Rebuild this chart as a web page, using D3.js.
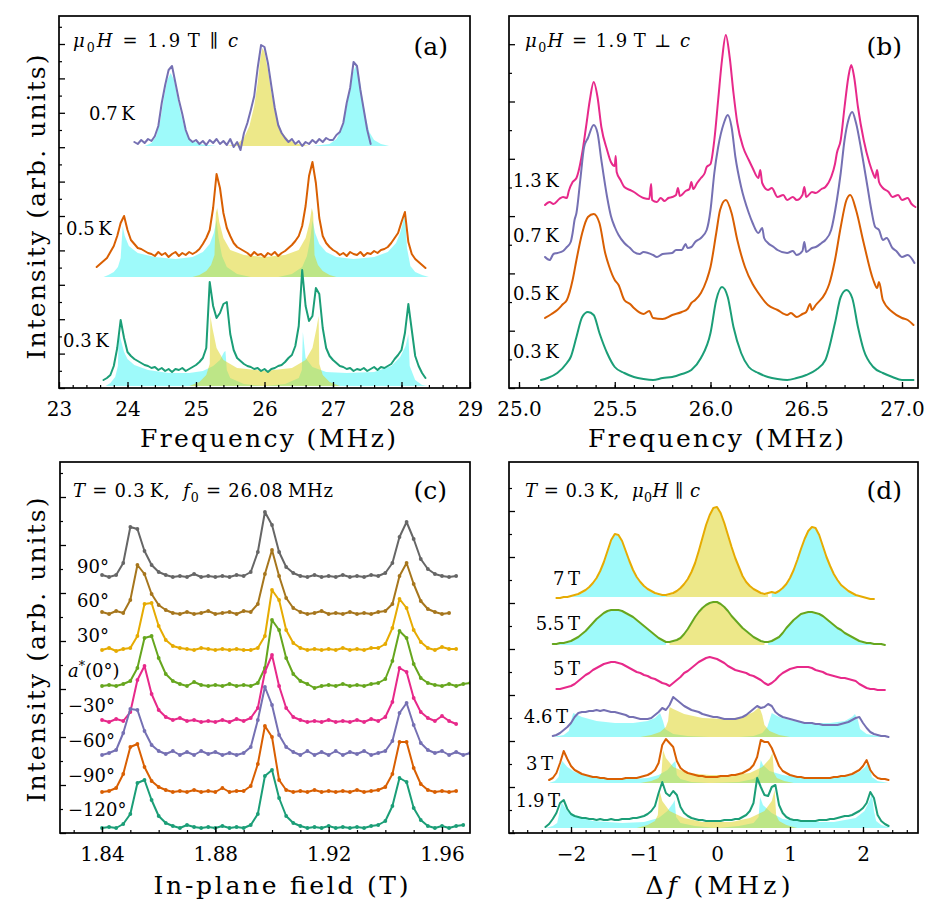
<!DOCTYPE html>
<html><head><meta charset="utf-8">
<script src="https://cdn.jsdelivr.net/npm/d3@7/dist/d3.min.js"></script>
<style>
body{margin:0;background:#fff}
text{font-family:"DejaVu Serif",serif;fill:#000;white-space:pre}
</style>
</head><body>
<svg id="fig" width="945" height="917"></svg>
<script>
// ================= DATA =================
// Panel (a): mu0H = 1.9 T || c, frequency spectra (MHz), intensity (arb. units)
const aTicks = [23, 24, 25, 26, 27, 28, 29];
const aLabels = ["0.7\u2009K", "0.5\u2009K", "0.3\u2009K"];
const aStep = 0.05;
const a07Start = 24.10, a05Start = 23.55, a03Start = 23.65;
const a07 = [246,244,248,245,249,247,252,262,285,303,318,322,305,288,274,258,249,246,
 248,244,247,243,248,245,249,244,247,243,249,241,246,238,255,265,278,292,320,343,
 341,325,302,280,263,255,250,246,249,244,247,242,246,244,248,245,249,246,250,248,
 248,253,256,265,285,300,326,322,298,278,258,244];
const a05 = [121,124,127,130,136,142,152,165,172,158,148,144,140,139,137,135,134,132,136,133,135,131,134,136,132,135,133,136,134,
 136,139,144,150,158,180,214,200,175,160,152,145,141,139,137,135,132,136,133,134,
 131,135,133,136,132,135,137,140,143,147,152,162,182,212,226,205,170,152,145,141,
 138,136,133,135,132,136,134,133,136,132,135,134,137,135,138,139,141,145,150,155,
 166,176,146,134,129,126,123,120];
const a03 = [8,10,13,22,40,68,50,36,32,29,27,25,23,22,20,21,18,20,17,19,16,19,18,20,17,19,21,
 23,26,30,40,106,82,70,75,84,86,54,38,30,27,24,22,21,19,20,17,
 19,16,19,20,22,23,26,30,33,42,62,118,82,67,72,100,94,60,40,32,
 28,25,22,21,19,20,17,19,18,20,17,19,21,18,21,20,22,24,29,33,
 38,55,84,58,32,22,15,10];
const a07Base = 242, a05Base = 111, a03Base = 2;
const a07Cyan = [[24.25,242],[24.35,245],[24.42,252],[24.48,268],[24.53,290],[24.58,308],[24.63,315],[24.68,308],[24.73,290],[24.78,274],[24.84,258],[24.92,248],[25.05,244],[25.3,242],[26.7,242],[26.95,244],[27.05,249],[27.12,258],[27.18,275],[27.24,295],[27.29,315],[27.33,322],[27.38,312],[27.43,290],[27.48,270],[27.53,256],[27.6,248],[27.7,244],[27.82,242]];
const a07Yellow = [[25.45,242],[25.6,244],[25.7,250],[25.78,262],[25.85,282],[25.9,305],[25.94,330],[25.97,340],[26.0,336],[26.05,318],[26.1,295],[26.17,272],[26.25,256],[26.35,248],[26.5,244],[26.65,242]];
const a05Cyan = [[23.65,111],[23.72,113],[23.8,116],[23.86,121],[23.9,130],[23.93,162],[23.96,152],[24.02,142],[24.15,135],[24.4,131],[24.7,129],[24.95,131],[25.1,136],[25.2,144],[25.26,155],[25.3,168],[25.33,150],[25.38,132],[25.45,121],[25.6,114],[25.8,111],[26.2,111],[26.4,114],[26.55,121],[26.62,132],[26.67,150],[26.7,168],[26.74,155],[26.8,144],[26.9,136],[27.05,131],[27.3,129],[27.6,131],[27.8,136],[27.92,145],[27.98,155],[28.02,165],[28.05,176],[28.08,140],[28.13,122],[28.2,116],[28.3,113],[28.4,111]];
const a05Yellow = [[24.95,111],[25.05,113],[25.15,117],[25.22,123],[25.27,133],[25.29,175],[25.31,180],[25.34,166],[25.4,150],[25.5,138],[25.7,133],[26.0,131],[26.3,133],[26.5,138],[26.6,150],[26.66,166],[26.69,180],[26.71,175],[26.73,133],[26.78,123],[26.85,117],[26.95,113],[27.05,111]];
const a03Cyan = [[23.68,2],[23.75,5],[23.82,11],[23.86,22],[23.875,57],[23.9,49],[23.95,36],[24.0,29],[24.1,23],[24.3,18],[24.6,15],[24.9,15],[25.1,17],[25.25,22],[25.35,28],[25.41,36],[25.43,37],[25.45,18],[25.5,10],[25.7,4],[26.0,2],[26.3,4],[26.5,10],[26.545,18],[26.56,56],[26.6,30],[26.7,21],[26.9,16],[27.2,15],[27.6,16],[27.85,22],[27.98,31],[28.06,42],[28.1,54],[28.12,22],[28.2,8],[28.3,3],[28.38,2]];
const a03Yellow = [[24.9,2],[25.05,6],[25.15,13],[25.2,24],[25.21,72],[25.24,60],[25.3,40],[25.4,28],[25.6,20],[26.0,17],[26.4,20],[26.6,28],[26.7,40],[26.76,60],[26.79,72],[26.8,24],[26.85,13],[26.95,6],[27.1,2]];

// Panel (b): mu0H = 1.9 T perpendicular to c
const bTicks = [25.0, 25.5, 26.0, 26.5, 27.0];
const bLabels = ["1.3\u2009K", "0.7\u2009K", "0.5\u2009K", "0.3\u2009K"];
const b13 = [[25.136,183],[25.16,186],[25.18,184],[25.21,189],[25.23,191],[25.25,190],[25.26,197],[25.28,206],[25.3,210],[25.31,216],[25.33,235],[25.35,261],[25.37,288],[25.39,306],[25.41,291],[25.43,261],[25.46,238],[25.48,226],[25.5,222],[25.505,232],[25.51,216],[25.53,208],[25.55,201],[25.58,198],[25.6,196],[25.63,192],[25.65,190],[25.68,189],[25.69,204],[25.695,188],[25.72,186],[25.74,190],[25.76,187],[25.78,190],[25.8,191],[25.82,193],[25.83,200],[25.84,192],[25.87,197],[25.89,199],[25.9,206],[25.91,199],[25.93,205],[25.95,210],[25.97,215],[25.98,221],[26.0,224],[26.02,248],[26.04,288],[26.06,328],[26.08,353],[26.1,331],[26.12,295],[26.14,265],[26.17,241],[26.2,228],[26.22,220],[26.25,210],[26.26,218],[26.27,205],[26.3,198],[26.32,200],[26.35,191],[26.38,193],[26.4,188],[26.43,191],[26.45,188],[26.48,193],[26.49,201],[26.5,191],[26.53,196],[26.55,195],[26.58,199],[26.6,201],[26.63,211],[26.65,224],[26.66,235],[26.68,248],[26.7,281],[26.72,311],[26.735,323],[26.75,311],[26.77,281],[26.8,248],[26.83,225],[26.85,214],[26.86,210],[26.87,218],[26.88,206],[26.9,200],[26.93,196],[26.95,191],[26.98,193],[27.0,188],[27.03,190],[27.05,184],[27.07,181]];
const b07 = [[25.136,131],[25.16,128],[25.18,134],[25.2,135],[25.23,137],[25.25,141],[25.27,146],[25.28,155],[25.29,168],[25.3,175],[25.32,208],[25.34,241],[25.36,250],[25.39,263],[25.41,255],[25.43,228],[25.46,191],[25.48,172],[25.5,161],[25.52,153],[25.55,145],[25.58,140],[25.6,136],[25.63,134],[25.65,136],[25.7,133],[25.72,131],[25.75,134],[25.8,135],[25.82,138],[25.85,138],[25.87,144],[25.88,140],[25.9,141],[25.92,146],[25.95,150],[25.98,158],[26.0,178],[26.02,215],[26.04,241],[26.07,265],[26.09,273],[26.11,261],[26.13,231],[26.16,201],[26.2,175],[26.22,165],[26.25,155],[26.27,160],[26.28,150],[26.3,145],[26.33,141],[26.35,138],[26.4,135],[26.43,137],[26.45,133],[26.48,137],[26.49,146],[26.5,136],[26.53,140],[26.55,141],[26.58,145],[26.6,148],[26.63,158],[26.66,188],[26.68,215],[26.7,248],[26.72,268],[26.74,276],[26.76,265],[26.79,235],[26.82,201],[26.84,178],[26.86,161],[26.88,158],[26.9,148],[26.92,150],[26.95,140],[26.97,137],[27.0,131],[27.03,133],[27.065,125]];
const b05 = [[25.136,70],[25.17,74],[25.2,78],[25.23,84],[25.25,88],[25.28,108],[25.3,128],[25.33,155],[25.36,171],[25.39,174],[25.42,165],[25.45,135],[25.47,122],[25.5,108],[25.52,103],[25.55,88],[25.58,84],[25.6,80],[25.65,74],[25.68,77],[25.7,70],[25.75,69],[25.8,73],[25.85,76],[25.88,79],[25.9,85],[25.92,88],[25.95,95],[25.98,108],[26.0,121],[26.03,155],[26.05,178],[26.08,188],[26.11,175],[26.14,148],[26.18,121],[26.22,104],[26.25,95],[26.3,83],[26.35,78],[26.4,73],[26.42,75],[26.45,71],[26.48,74],[26.5,76],[26.52,84],[26.53,78],[26.55,83],[26.6,95],[26.62,104],[26.65,128],[26.68,161],[26.71,188],[26.73,193],[26.76,178],[26.8,145],[26.85,108],[26.87,100],[26.88,106],[26.9,88],[26.95,76],[27.0,70],[27.03,68],[27.06,63]];
const b03 = [[25.115,8],[25.15,10],[25.2,15],[25.25,25],[25.27,31],[25.3,51],[25.33,71],[25.36,76],[25.39,73],[25.42,55],[25.46,35],[25.5,21],[25.55,15],[25.6,11],[25.65,9],[25.7,8],[25.75,10],[25.8,11],[25.85,14],[25.9,18],[25.95,30],[26.0,55],[26.03,88],[26.06,101],[26.09,91],[26.12,61],[26.16,35],[26.2,21],[26.25,15],[26.3,11],[26.35,9],[26.4,8],[26.45,10],[26.5,13],[26.55,18],[26.6,28],[26.65,65],[26.68,91],[26.71,98],[26.74,90],[26.77,61],[26.8,38],[26.85,21],[26.9,15],[26.95,11],[27.0,8],[27.06,8]];

// Panel (c): T = 0.3 K, f0 = 26.08 MHz, field sweeps at in-plane angles
const cTicks = [1.84, 1.88, 1.92, 1.96];
const cLabels = ["90°", "60°", "30°", "a*(0°)", "−30°", "−60°", "−90°", "−120°"];
const cStart = 1.84, cStep = 0.0025;
const cOffsets = [256, 219, 183, 147, 111, 78, 41, 5];
const c90 = [2,0,2,14,50,48,26,12,5,2,0,1,0,3,0,1,0,1,0,2,1,5,25,65,52,25,10,4,1,0,2,0,1,0,2,0,1,0,2,1,4,14,40,55,38,18,8,3,1,0,1];
const c60 = [2,0,3,1,14,49,40,20,9,4,1,0,2,0,1,3,0,1,2,0,3,2,10,40,64,38,16,6,2,0,1,3,0,1,0,2,0,1,0,2,3,10,38,51,30,13,5,2,0,1];
const c30 = [0,2,-1,1,2,14,46,47,24,10,4,2,1,0,2,1,0,1,0,1,0,0,2,14,60,50,20,7,2,0,1,0,1,0,2,0,1,0,2,2,6,22,51,42,20,8,2,0,3,1,1];
const c0 = [0,1,0,2,5,18,48,50,28,12,5,2,0,4,1,0,1,0,2,0,1,0,3,18,66,56,28,12,5,2,-2,0,1,0,2,0,1,0,2,3,7,25,55,48,22,8,3,1,0,2,0,2,3];
const cM30 = [2,0,3,1,10,42,56,28,12,5,2,4,1,2,0,1,0,2,0,3,1,4,14,50,67,36,14,5,2,0,1,0,2,0,1,0,2,0,3,1,5,20,54,50,24,10,4,1,6,1,-2];
const cM60 = [0,2,5,22,46,45,24,10,4,1,4,0,3,0,4,1,3,0,2,0,2,8,35,68,50,20,8,3,0,4,0,3,0,4,0,3,1,4,0,2,4,14,42,52,30,12,5,2,4,0,3,0,2];
const cM90 = [0,1,4,18,45,48,25,11,5,2,0,1,0,2,0,1,0,4,0,1,1,6,28,66,55,12,2,0,1,0,2,0,1,0,1,0,2,0,1,2,5,18,50,50,24,8,2,0,1,0,1];
const cM120 = [0,1,0,4,14,45,48,28,12,5,2,0,3,1,0,1,0,2,0,1,0,3,14,52,58,30,12,5,2,0,1,0,2,0,1,0,1,0,2,3,7,22,50,46,20,8,2,0,2,0,2,3];

// Panel (d): T = 0.3 K, mu0H || c, spectra vs frequency shift at several fields
const dTicks = [-2, -1, 0, 1, 2];
const dLabels = ["7\u2009T", "5.5\u2009T", "5\u2009T", "4.6\u2009T", "3\u2009T", "1.9\u2009T"];
const dStep = 0.05;
const d7Start = -2.2, d55Start = -2.25, d5Start = -2.2, d46Start = -2.25, d3Start = -2.3, d19Start = -2.35;
const s7T = [235,235,236,236,237,238,239,241,243,246,250,255,262,271,282,293,299,298,292,282,272,263,256,251,247,244,242,240,239,238,238,239,240,242,245,249,254,261,270,282,295,308,318,325,326,320,310,298,286,275,266,257,251,247,244,242,240,239,240,241,240,242,245,249,255,263,273,284,294,302,306,305,298,287,276,267,259,253,248,245,242,240,238,237,236,235,234,234];
const s55T = [189,189,190,190,191,192,194,196,199,202,206,210,214,217,220,222,223,223,223,222,220,218,216,213,210,207,204,201,198,195,193,191,191,192,193,195,199,204,210,216,221,225,228,230,231,231,229,226,222,217,213,209,205,202,199,196,194,192,191,191,192,194,196,200,205,209,213,216,219,220,221,221,220,219,217,214,211,208,205,203,200,198,196,194,192,191,190,190,189,189,189,188];
const s5T = [144,144,145,146,147,149,152,155,158,160,163,165,167,169,170,171,171,170,169,167,165,163,161,160,158,157,155,154,152,150,149,147,150,153,156,160,162,165,168,171,173,175,176,175,174,172,170,167,165,163,162,161,160,158,157,155,153,150,148,150,153,157,160,162,164,165,166,166,166,166,165,163,162,161,159,158,157,156,155,155,154,153,152,149,147,145,144,144,143,143,143];
const s46T = [97,98,100,103,106,110,116,120,121,121,122,122,123,122,123,122,121,121,120,119,118,116,116,115,114,114,114,115,118,121,125,123,128,136,133,130,127,125,123,122,121,119,118,117,116,116,115,114,114,114,114,115,116,118,121,124,127,125,126,129,127,121,118,116,115,114,113,112,111,110,110,110,109,109,108,108,108,108,108,109,110,111,113,115,116,110,105,101,99,98,97,97,96];
const s3T = [53,55,60,70,82,74,67,63,61,59,58,57,56,56,55,55,54,54,54,54,54,55,55,55,55,56,57,58,60,63,70,88,94,90,86,72,65,62,60,59,58,57,57,56,56,56,56,57,57,57,58,58,59,60,62,64,68,76,93,91,91,85,76,67,62,60,58,57,56,56,55,55,55,55,55,55,55,55,56,56,57,57,58,59,61,63,67,73,63,58,55,54,54,53];
const s19T = [6,9,14,20,30,33,24,19,17,16,15,15,14,14,13,14,13,13,14,13,13,14,14,14,15,15,16,17,19,22,27,40,51,40,37,42,38,26,20,17,15,14,13,13,12,12,12,12,12,13,13,13,14,14,16,18,22,30,55,46,38,37,46,48,28,20,16,14,13,13,12,12,12,12,12,13,13,13,14,14,15,16,17,17,18,20,22,25,30,41,35,18,12,9,7];
const d7FillBase = 236, d7Split = [-0.7, 0.72];
const d55FillBase = 188, d55Split = [-0.68, 0.68];
const d46Base = 96, d3Base = 50, d19Base = 5;
const d46Cyan = [[-2.25,96],[-2.1,98],[-2.03,102],[-2.0,112],[-1.97,120],[-1.85,116],[-1.65,112],[-1.4,110],[-1.15,110],[-0.95,112],[-0.85,115],[-0.78,120],[-0.74,112],[-0.71,104],[-0.6,99],[-0.4,97],[-0.1,96],[0.3,96],[0.5,97],[0.62,100],[0.69,106],[0.72,113],[0.75,120],[0.85,116],[1.05,112],[1.3,110],[1.55,110],[1.75,112],[1.85,116],[1.89,119],[1.93,113],[1.96,104],[2.05,99],[2.2,97],[2.35,96]];
const d46Yellow = [[-1.05,96],[-0.9,98],[-0.78,101],[-0.7,106],[-0.67,112],[-0.65,126],[-0.6,124],[-0.45,119],[-0.2,115],[0.1,114],[0.35,116],[0.5,121],[0.58,126],[0.62,118],[0.65,108],[0.72,102],[0.85,98],[1.0,96]];
const d3Cyan = [[-2.3,50],[-2.22,52],[-2.17,56],[-2.15,66],[-2.12,72],[-2.05,66],[-1.95,61],[-1.8,58],[-1.5,55],[-1.2,54],[-0.95,55],[-0.8,58],[-0.68,63],[-0.6,70],[-0.57,72],[-0.55,58],[-0.5,54],[-0.35,51],[-0.1,50],[0.3,51],[0.5,54],[0.57,58],[0.6,73],[0.63,68],[0.72,62],[0.9,58],[1.2,55],[1.5,55],[1.8,57],[1.95,61],[2.03,66],[2.07,71],[2.1,66],[2.12,56],[2.2,52],[2.35,50]];
const d3Yellow = [[-1.05,50],[-0.9,52],[-0.8,55],[-0.76,60],[-0.74,83],[-0.7,75],[-0.6,66],[-0.4,60],[-0.1,58],[0.2,58],[0.45,60],[0.62,66],[0.72,74],[0.76,80],[0.78,60],[0.82,55],[0.92,52],[1.05,50]];
const d19Cyan = [[-2.35,5],[-2.25,7],[-2.19,10],[-2.16,20],[-2.13,31],[-2.05,22],[-1.95,17],[-1.7,12],[-1.3,10],[-1.0,11],[-0.8,15],[-0.68,22],[-0.6,30],[-0.58,33],[-0.56,16],[-0.5,10],[-0.3,7],[0.0,5],[0.3,7],[0.5,10],[0.57,16],[0.59,36],[0.63,28],[0.75,20],[0.9,14],[1.2,11],[1.6,11],[1.9,15],[2.02,22],[2.1,34],[2.12,40],[2.15,22],[2.18,12],[2.25,8],[2.38,5]];
const d19Yellow = [[-1.1,5],[-0.95,8],[-0.85,12],[-0.81,18],[-0.79,43],[-0.75,32],[-0.65,22],[-0.45,15],[-0.2,11],[0.2,11],[0.45,15],[0.65,22],[0.75,32],[0.79,43],[0.81,18],[0.85,12],[0.95,8],[1.1,5]];

// ================= DRAWING =================
const COL = {teal:"#1b9e77", orange:"#d95f02", purple:"#7570b3", pink:"#e7298a",
             green:"#66a61e", gold:"#e6ab02", brown:"#a6761d", gray:"#666666"};
const CYAN = "#00f2f2", CYAN_OP = 0.38, YEL = "#dcd214", YEL_OP = 0.5;
const svg = d3.select("#fig");

function grid(start, step, vals){ return vals.map((v,i)=>[start + i*step, v]); }

let clipId = 0;
function panel(o){
  const g = svg.append("g");
  const x = d3.scaleLinear().domain(o.xd).range(o.xr);
  const y = d3.scaleLinear().domain([0, o.b - o.t]).range([o.b, o.t]);
  const id = "clip" + (clipId++);
  svg.append("clipPath").attr("id", id).append("rect")
     .attr("x", o.l).attr("y", o.t).attr("width", o.r - o.l).attr("height", o.b - o.t);
  const plot = g.append("g").attr("clip-path", `url(#${id})`);
  const xa = g.append("g").attr("transform", `translate(0,${o.b})`)
    .call(d3.axisBottom(x).tickValues(o.xt).tickFormat(o.fmt).tickSizeInner(-6).tickSizeOuter(0).tickPadding(14));
  xa.select(".domain").remove();
  xa.selectAll("text").attr("font-size", 20).attr("font-family", '"DejaVu Serif",serif');
  xa.selectAll("line").attr("stroke-width", 1.3);
  const xm = g.append("g").attr("transform", `translate(0,${o.b})`)
    .call(d3.axisBottom(x).tickValues(o.xm.filter(v => x(v) > o.l + 1 && x(v) < o.r - 1)).tickFormat("").tickSizeInner(-3).tickSizeOuter(0));
  xm.select(".domain").remove();
  xm.selectAll("line").attr("stroke-width", 1.2);
  const H = o.b - o.t;
  const ya = g.append("g").attr("transform", `translate(${o.l},0)`)
    .call(d3.axisLeft(y).tickValues(d3.range(0, H - 5, o.ys)).tickFormat("").tickSizeInner(-6).tickSizeOuter(0));
  ya.select(".domain").remove();
  ya.selectAll("line").attr("stroke-width", 1.3);
  const ym = g.append("g").attr("transform", `translate(${o.l},0)`)
    .call(d3.axisLeft(y).tickValues(d3.range(o.ys/2, H - 5, o.ys)).tickFormat("").tickSizeInner(-3).tickSizeOuter(0));
  ym.select(".domain").remove();
  ym.selectAll("line").attr("stroke-width", 1.2);
  g.append("rect").attr("x", o.l).attr("y", o.t).attr("width", o.r - o.l).attr("height", o.b - o.t)
    .attr("fill", "none").attr("stroke", "#000").attr("stroke-width", 1.7);
  return {g, plot, x, y};
}

function fillPoly(p, pts, base, color, op){
  p.plot.append("path").datum(pts)
    .attr("d", d3.area().x(d => p.x(d[0])).y0(p.y(base)).y1(d => p.y(d[1])))
    .attr("fill", color).attr("fill-opacity", op).attr("stroke", "none");
}
function trace(p, pts, color, curve){
  p.plot.append("path").datum(pts)
    .attr("d", d3.line().x(d => p.x(d[0])).y(d => p.y(d[1])).curve(curve || d3.curveLinear))
    .attr("fill", "none").attr("stroke", color).attr("stroke-width", 2)
    .attr("stroke-linejoin", "round").attr("stroke-linecap", "round");
}
function rich(g, x, y, parts, size, anchor, len){
  const t = g.append("text").attr("x", x).attr("y", y).attr("font-size", size)
    .attr("text-anchor", anchor || "start");
  let shift = 0;
  parts.forEach(p => {
    const s = t.append("tspan").text(p.t);
    const target = p.sub ? 0.28*size : (p.sup ? -0.38*size : 0);
    if (target - shift !== 0) s.attr("dy", target - shift);
    shift = target;
    if (p.sub || p.sup) s.attr("font-size", size*0.7);
    if (p.it) s.attr("font-style", "italic");
  });
  if (len) t.attr("textLength", len).attr("lengthAdjust", "spacing");
  return t;
}
function vtitle(g, x, y, str, len){
  g.append("text").attr("transform", `translate(${x},${y}) rotate(-90)`)
    .attr("text-anchor", "middle").attr("font-size", 25).text(str)
    .attr("textLength", len).attr("lengthAdjust", "spacing");
}

// ---------- Panel (a) ----------
const pa = panel({l:59, r:470, t:16, b:388, xd:[23,29], xr:[59,470], xt:aTicks,
  xm:d3.range(23, 29.01, 0.2), fmt:d3.format("d"), ys:34.4});
fillPoly(pa, a07Cyan, a07Base, CYAN, CYAN_OP);
fillPoly(pa, a07Yellow, a07Base, YEL, YEL_OP);
fillPoly(pa, a05Cyan, a05Base, CYAN, CYAN_OP);
fillPoly(pa, a05Yellow, a05Base, YEL, YEL_OP);
fillPoly(pa, a03Cyan, a03Base, CYAN, CYAN_OP);
fillPoly(pa, a03Yellow, a03Base, YEL, YEL_OP);
trace(pa, grid(a07Start, aStep, a07), COL.purple);
trace(pa, grid(a05Start, aStep, a05), COL.orange);
trace(pa, grid(a03Start, aStep, a03), COL.teal);
[[89,120],[66,235],[63,347]].forEach((p,i) => pa.g.append("text").attr("x", p[0]).attr("y", p[1]).attr("font-size", 18).text(aLabels[i]));
rich(pa.g, 73, 47, [{t:"μ",it:1},{t:"0",sub:1},{t:"H",it:1},{t:" = 1.9\u2009T ∥ "},{t:"c",it:1}], 18, "start", 165);
pa.g.append("text").attr("x", 448).attr("y", 55).attr("text-anchor", "end").attr("font-size", 25).text("(a)");
pa.g.append("text").attr("x", 268).attr("y", 447).attr("text-anchor", "middle").attr("font-size", 25)
  .attr("textLength", 256).attr("lengthAdjust", "spacing").text("Frequency (MHz)");
vtitle(pa.g, 45, 207, "Intensity (arb. units)", 305);

// ---------- Panel (b) ----------
const pb = panel({l:509, r:918, t:16, b:388, xd:[25,27], xr:[519,902], xt:bTicks,
  xm:d3.range(24.9, 27.11, 0.1), fmt:d3.format(".1f"), ys:28.65*2});
const bCurve = d3.curveMonotoneX;
trace(pb, b13, COL.pink, bCurve);
trace(pb, b07, COL.purple, bCurve);
trace(pb, b05, COL.orange, bCurve);
trace(pb, b03, COL.teal, bCurve);
[[513,187],[513,242],[513,300],[513,358]].forEach((p,i) => pb.g.append("text").attr("x", p[0]).attr("y", p[1]).attr("font-size", 18).text(bLabels[i]));
rich(pb.g, 525, 47, [{t:"μ",it:1},{t:"0",sub:1},{t:"H",it:1},{t:" = 1.9\u2009T ⊥ "},{t:"c",it:1}], 18, "start", 165);
pb.g.append("text").attr("x", 902).attr("y", 55).attr("text-anchor", "end").attr("font-size", 25).text("(b)");
pb.g.append("text").attr("x", 716).attr("y", 447).attr("text-anchor", "middle").attr("font-size", 25)
  .attr("textLength", 256).attr("lengthAdjust", "spacing").text("Frequency (MHz)");

// ---------- Panel (c) ----------
const pc = panel({l:60, r:470, t:462, b:833, xd:[1.84,1.96], xr:[102,442], xt:cTicks,
  xm:d3.range(1.83, 1.975, 0.01), fmt:d3.format(".2f"), ys:48});
const cSeries = [c90, c60, c30, c0, cM30, cM60, cM90, cM120];
const cColors = [COL.gray, COL.brown, COL.gold, COL.green, COL.pink, COL.purple, COL.orange, COL.teal];
cSeries.forEach((s, k) => {
  const pts = grid(cStart, cStep, s).map(d => [d[0], d[1] + cOffsets[k]]);
  trace(pc, pts, cColors[k]);
  pc.plot.append("g").selectAll("circle").data(pts).join("circle")
    .attr("cx", d => pc.x(d[0])).attr("cy", d => pc.y(d[1])).attr("r", 1.9).attr("fill", cColors[k]);
});
const cLabPos = [[77,573],[77,607],[77,642],[68,677],[68,712],[68,747],[68,782],[68,816]];
cLabels.forEach((s, i) => {
  if (i === 3) rich(pc.g, cLabPos[i][0], cLabPos[i][1], [{t:"a",it:1},{t:"*",sup:1},{t:"(0°)"}], 18);
  else pc.g.append("text").attr("x", cLabPos[i][0]).attr("y", cLabPos[i][1]).attr("font-size", 18).text(s);
});
rich(pc.g, 73, 497, [{t:"T",it:1},{t:" = 0.3\u2009K,  "},{t:"f",it:1},{t:"0",sub:1},{t:" = 26.08\u2009MHz"}], 18, "start", 260);
pc.g.append("text").attr("x", 447).attr("y", 499).attr("text-anchor", "end").attr("font-size", 25).text("(c)");
pc.g.append("text").attr("x", 281).attr("y", 894).attr("text-anchor", "middle").attr("font-size", 25)
  .attr("textLength", 255).attr("lengthAdjust", "spacing").text("In-plane field (T)");
vtitle(pc.g, 45, 650, "Intensity (arb. units)", 305);

// ---------- Panel (d) ----------
const pd = panel({l:509, r:918, t:462, b:833, xd:[-2,2], xr:[571,863], xt:dTicks,
  xm:d3.range(-2.8, 2.8, 0.2), fmt:d3.format("d"), ys:46});
const d7p = grid(d7Start, dStep, s7T), d55p = grid(d55Start, dStep, s55T);
function splitFill(pts, base, split){
  const clampPt = d => [d[0], Math.max(d[1]-1, base)];
  const left = pts.filter(d => d[0] <= split[0] + 1e-9).map(clampPt);
  const right = pts.filter(d => d[0] >= split[1] - 1e-9).map(clampPt);
  const mid = pts.filter(d => d[0] >= split[0] - 1e-9 && d[0] <= split[1] + 1e-9).map(clampPt);
  fillPoly(pd, left, base, CYAN, CYAN_OP);
  fillPoly(pd, right, base, CYAN, CYAN_OP);
  fillPoly(pd, mid, base, YEL, YEL_OP);
}
splitFill(d7p, d7FillBase, d7Split);
splitFill(d55p, d55FillBase, d55Split);
fillPoly(pd, d46Cyan, d46Base, CYAN, CYAN_OP);
fillPoly(pd, d46Yellow, d46Base, YEL, YEL_OP);
fillPoly(pd, d3Cyan, d3Base, CYAN, CYAN_OP);
fillPoly(pd, d3Yellow, d3Base, YEL, YEL_OP);
fillPoly(pd, d19Cyan, d19Base, CYAN, CYAN_OP);
fillPoly(pd, d19Yellow, d19Base, YEL, YEL_OP);
trace(pd, d7p, COL.gold);
trace(pd, d55p, COL.green);
trace(pd, grid(d5Start, dStep, s5T), COL.pink);
trace(pd, grid(d46Start, dStep, s46T), COL.purple);
trace(pd, grid(d3Start, dStep, s3T), COL.orange);
trace(pd, grid(d19Start, dStep, s19T), COL.teal);
[[580,585],[580,630],[580,675],[568,723],[553,770],[560,807]].forEach((p,i) =>
  pd.g.append("text").attr("x", p[0]).attr("y", p[1]).attr("text-anchor", "end").attr("font-size", 18).text(dLabels[i]));
rich(pd.g, 525, 497, [{t:"T",it:1},{t:" = 0.3\u2009K,  "},{t:"μ",it:1},{t:"0",sub:1},{t:"H",it:1},{t:" ∥ "},{t:"c",it:1}], 18, "start", 175);
pd.g.append("text").attr("x", 902).attr("y", 499).attr("text-anchor", "end").attr("font-size", 25).text("(d)");
rich(pd.g, 718, 894, [{t:"Δ"},{t:"f",it:1},{t:" (MHz)"}], 25, "middle", 145);
</script>
</body></html>
